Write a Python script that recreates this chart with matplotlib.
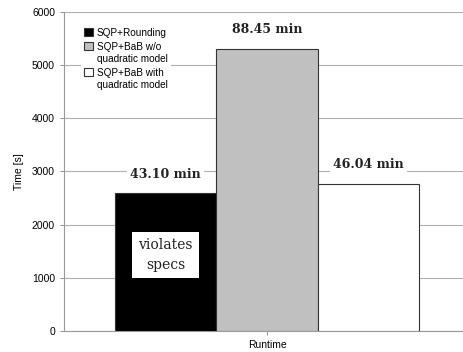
import matplotlib.pyplot as plt
import numpy as np

methods = ["SQP+Rounding", "SQP+BaB w/o\nquadratic model", "SQP+BaB with\nquadratic model"]
runtime_min = [43.10, 88.45, 46.04]
colors = ["black", "#c0c0c0", "white"]
category = "Runtime"

runtime_s = np.array(runtime_min) * 60

plt.rcParams['font.family'] = ['Liberation Sans', 'DejaVu Sans']

fig = plt.figure(figsize=(4.64, 3.52), dpi=100)
ax = fig.add_axes([0.138, 0.06, 0.862, 0.906])

pos = np.arange(len(methods))
bars = ax.bar(pos, runtime_s, width=1.0, color=colors, edgecolor="#333333",
              linewidth=0.8, label=methods, zorder=3)

for b, m in zip(bars, runtime_min):
    ax.text(b.get_x() + b.get_width() / 2, b.get_height() + 360, f"{m:.2f} min",
            ha="center", va="center", family="DejaVu Serif", fontsize=9,
            fontweight="bold", color="#222222", zorder=4,
            bbox=dict(facecolor="white", edgecolor="none", pad=2))

ax.text(pos[0], 1430, "violates\nspecs", ha="center", va="center",
        family="DejaVu Serif", fontsize=10, color="#222222", zorder=4,
        linespacing=1.5,
        bbox=dict(facecolor="white", edgecolor="none", pad=4.5))

ax.set_ylim(0, 6000)
ax.set_xlim(-1.0, 2.94)
ax.set_yticks(range(0, 6001, 1000))
ax.set_xticks([1])
ax.set_xticklabels([category])
ax.set_ylabel("Time [s]", fontsize=7.5, labelpad=6)
ax.tick_params(labelsize=7.5, color="#999999", length=3)
ax.yaxis.grid(True, color="#b0b0b0", linewidth=0.8, zorder=0)
for side in ["top", "right"]:
    ax.spines[side].set_visible(False)
for side in ["left", "bottom"]:
    ax.spines[side].set_color("#999999")

leg = ax.legend(loc="upper left", bbox_to_anchor=(0.03, 0.975), frameon=True,
                fontsize=7.2, handlelength=0.9, handleheight=0.9,
                handletextpad=0.4, labelspacing=0.4, borderpad=0.3)
for t in leg.get_texts():
    t.set_linespacing(1.25)
# put the swatch next to the first line of a two-line label
for col in leg._legend_handle_box.get_children():
    for row in col.get_children():
        row.align = "top"
leg.get_frame().set_edgecolor("none")
leg.get_frame().set_facecolor("white")
leg.get_frame().set_alpha(1)

fig.savefig("out.png", dpi=100)
